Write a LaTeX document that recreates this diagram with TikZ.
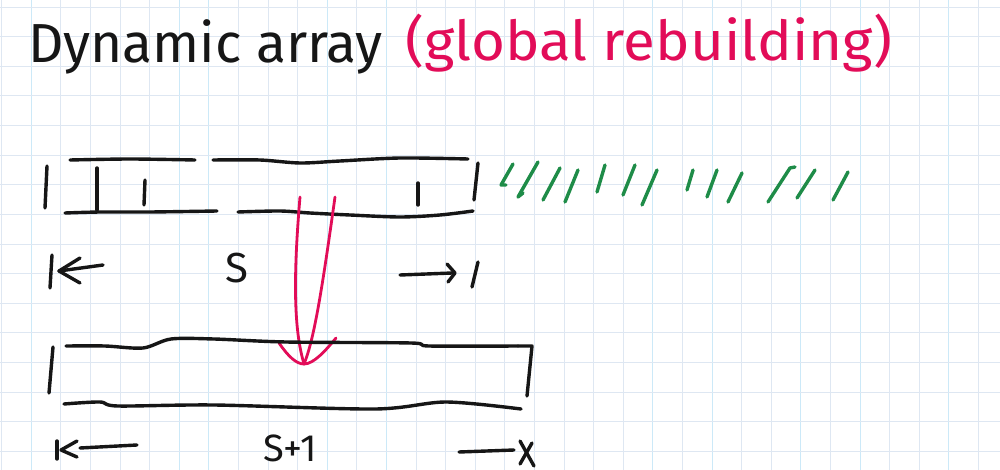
\documentclass[tikz,border=0pt]{standalone}
\usepackage{fontspec}
\setmainfont{Fira Sans}
\definecolor{gridc}{RGB}{222,231,242}
\definecolor{gridb}{RGB}{204,233,248}
\definecolor{pen}{RGB}{22,22,22}
\definecolor{redpen}{RGB}{226,12,88}
\definecolor{greenpen}{RGB}{30,140,72}
\begin{document}
\begin{tikzpicture}[x=1pt,y=-1pt,
  ink/.style={draw=pen,line width=3.4pt,line cap=round,line join=round},
  redink/.style={draw=redpen,line width=2.8pt,line cap=round,line join=round},
  greenink/.style={draw=greenpen,line width=3.4pt,line cap=round,line join=round},
  lbl/.style={text=pen,inner sep=0pt}]
\fill[white] (0,0) rectangle (1000,470);
\useasboundingbox (0,0) rectangle (1000,470);
% grid paper
\foreach \i in {0,...,33} \draw[gridc,line width=1pt] ({1.7+29.6*\i},0) -- ++(0,470);
\foreach \i in {1,6,7,11,13,22,24,27,29,32} \draw[gridb,line width=1pt] ({1.7+29.6*\i},0) -- ++(0,470);
\foreach \j in {0,...,15} \draw[gridc,line width=1pt] (0,{7.2+29.6*\j}) -- ++(1000,0);

% title
\node[lbl,anchor=base west,font=\fontsize{55}{64}\selectfont] (title) at (28,63) {Dynamic array};
\node[lbl,anchor=base west,text=redpen,font=\fontsize{55}{64}\selectfont,xscale=1.06] (subtitle) at (405,61) {(global rebuilding)};

% top array (size S)
\draw[ink] (47,166) -- (45,208);
\draw[ink] plot[smooth] coordinates {(70,160) (130,159) (195,160)};
\draw[ink] plot[smooth] coordinates {(213,160) (260,160) (300,163) (340,161) (400,158) (468,159)};
\draw[ink] plot[smooth] coordinates {(65,213) (100,212) (150,212) (217,211)};
\draw[ink] plot[smooth] coordinates {(238,212) (280,211) (310,213) (350,215) (400,217) (440,215) (473,211)};
\draw[ink] (97,168) -- (97,210);
\draw[ink] (145,180) -- (144,205);
\draw[ink] (418,183) -- (418,205);
\draw[ink] (478,163) -- (474,200);

% green marks (future insertions)
\draw[greenink] (513,164) -- (501,185) -- (506,185);
\draw[greenink] (538,162) -- (518,197) -- (523,193);
\draw[greenink] (560,168) -- (543,200);
\draw[greenink] (578,170) -- (565,202);
\draw[greenink] (605,165) -- (597,192);
\draw[greenink] (635,165) -- (623,195);
\draw[greenink] (657,170) -- (642,205);
\draw[greenink] (693,170) -- (687,190);
\draw[greenink] (717,170) -- (707,197);
\draw[greenink] (742,173) -- (728,202);
\draw[greenink] (795,167) -- (790,168) -- (768,202);
\draw[greenink] (815,170) -- (797,198);
\draw[greenink] (848,172) -- (833,200);

% size label S
\draw[ink] (52,255) -- (50,288);
\draw[ink] (80,258) -- (59,271) -- (80,283);
\draw[ink] (59,271) -- (103,265);
\node[lbl,font=\fontsize{42}{50}\selectfont] (s) at (237,268) {S};
\draw[ink] (400,275) -- (452,273);
\draw[ink] (447,264) -- (455,273) -- (448,282);
\draw[ink] (478,262) -- (472,287);

% red rebuilding arrow
\coordinate (a1) at (300,197);
\coordinate (a2) at (335,197);
\coordinate (tip) at (304,364);
\coordinate (wl) at (279,343);
\coordinate (wr) at (336,338);
\draw[redink] (a1) .. controls (293,280) and (294,330) .. (tip);
\draw[redink] (a2) .. controls (322,290) and (314,340) .. (tip);
\draw[redink] (wl) .. controls (288,356) and (296,364) .. (tip) .. controls (314,364) and (326,350) .. (wr);

% bottom array (size S+1)
\draw[ink] (53,347) -- (49,393);
\draw[ink] plot[smooth] coordinates {(66,346) (105,346) (143,348) (171,339) (214,339) (286,342) (411,343) (429,346) (518,346)};
\draw[ink] (518,346) -- (532,346) -- (527,396);
\draw[ink] plot[smooth] coordinates {(64,404) (100,402) (118,406) (214,405) (375,409) (446,402) (521,409)};

% size label S+1
\draw[ink] (57,441) -- (57,459);
\draw[ink] (77,441) -- (61,450) -- (77,457);
\draw[ink] (80,448) -- (137,445);
\node[lbl,anchor=base,font=\fontsize{38}{44}\selectfont] (s1) at (290,461) {S+1};
\draw[ink] (459,452) -- (514,450);
\draw[ink] (520,441) -- (534,466);
\draw[ink] (532,443) -- (520,464);
\end{tikzpicture}
\end{document}
